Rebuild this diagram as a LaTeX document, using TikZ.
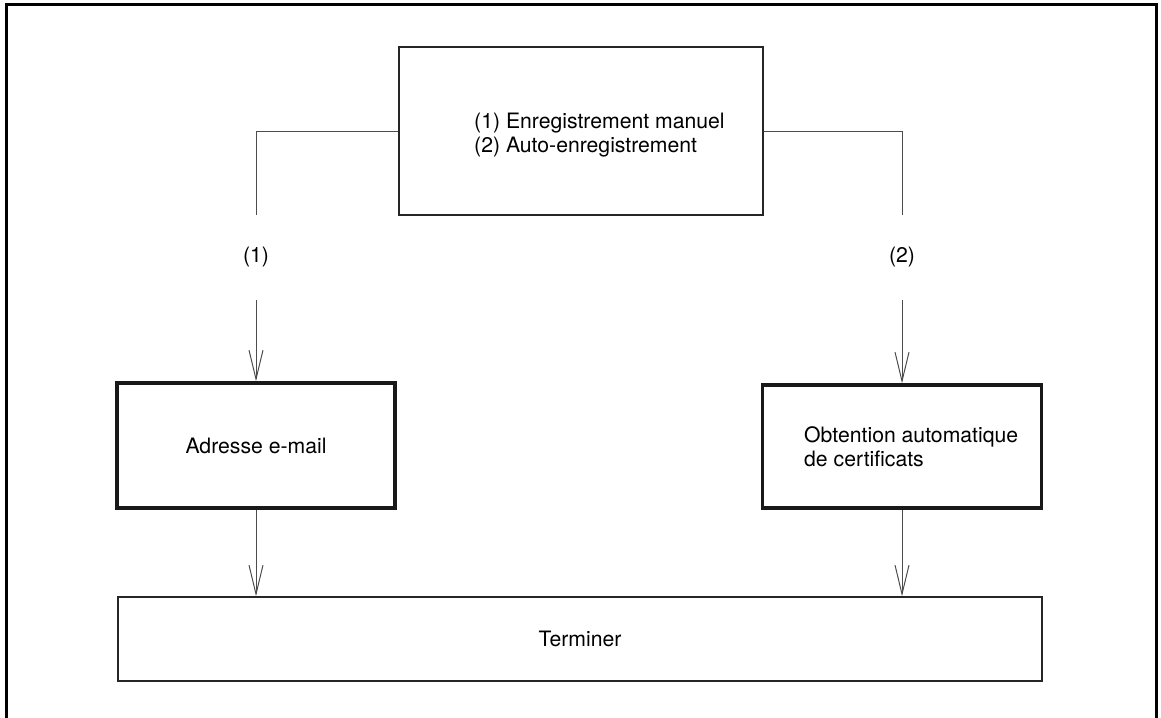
\documentclass[tikz,border=0pt]{standalone}
\usepackage{fontspec}
\setmainfont{TeX Gyre Heros}
\usetikzlibrary{arrows.meta}
\begin{document}
\begin{tikzpicture}[x=1pt,y=-1pt,
  every node/.style={font=\fontsize{21.2}{24}\selectfont, inner sep=0pt},
  thinbox/.style={draw=black!85, line width=1.5pt},
  thickbox/.style={draw=black!90, line width=3.5pt},
  conn/.style={draw=black!70, line width=1pt},
  arr/.style={conn, -{Straight Barb[length=29pt,width=14pt,line width=1pt]}},
  lbl/.style={text=black}
]
\useasboundingbox (0,0) rectangle (1161,717);
% outer frame
\draw[line width=3pt, black] (6,720) -- (6,5) -- (1156,5) -- (1156,720);
% top box
\node[thinbox, minimum width=364pt, minimum height=168pt] (top) at (581,131) {};
\node[anchor=west, align=left] (toptext) at (474,135) {(1) Enregistrement manuel\\(2) Auto-enregistrement};
% side boxes
\node[thickbox, minimum width=278pt, minimum height=125pt] (adr) at (256,445.5) {Adresse e-mail};
\node[thickbox, minimum width=279pt, minimum height=123pt] (obt) at (902,446.5) {};
\node[anchor=west, align=left] (obttext) at (804,447) {Obtention automatique\\de certificats};
% final box
\node[thinbox, minimum width=924pt, minimum height=84pt] (term) at (580,639) {Terminer};
% labels
\node[lbl] (l1) at (256,257) {(1)};
\node[lbl] (l2) at (902,257) {(2)};
% coordinates
\coordinate (lend) at (256,215);
\coordinate (rend) at (902,215);
\coordinate (lstart) at (256,300);
\coordinate (rstart) at (902,300);
% connectors
\draw[conn] (top.west) -| (lend);
\draw[conn] (top.east) -| (rend);
\draw[arr] (lstart) -- (adr.north);
\draw[arr] (rstart) -- (obt.north);
\draw[arr] (adr.south) -- (adr.south |- term.north);
\draw[arr] (obt.south) -- (obt.south |- term.north);
\end{tikzpicture}
\end{document}
